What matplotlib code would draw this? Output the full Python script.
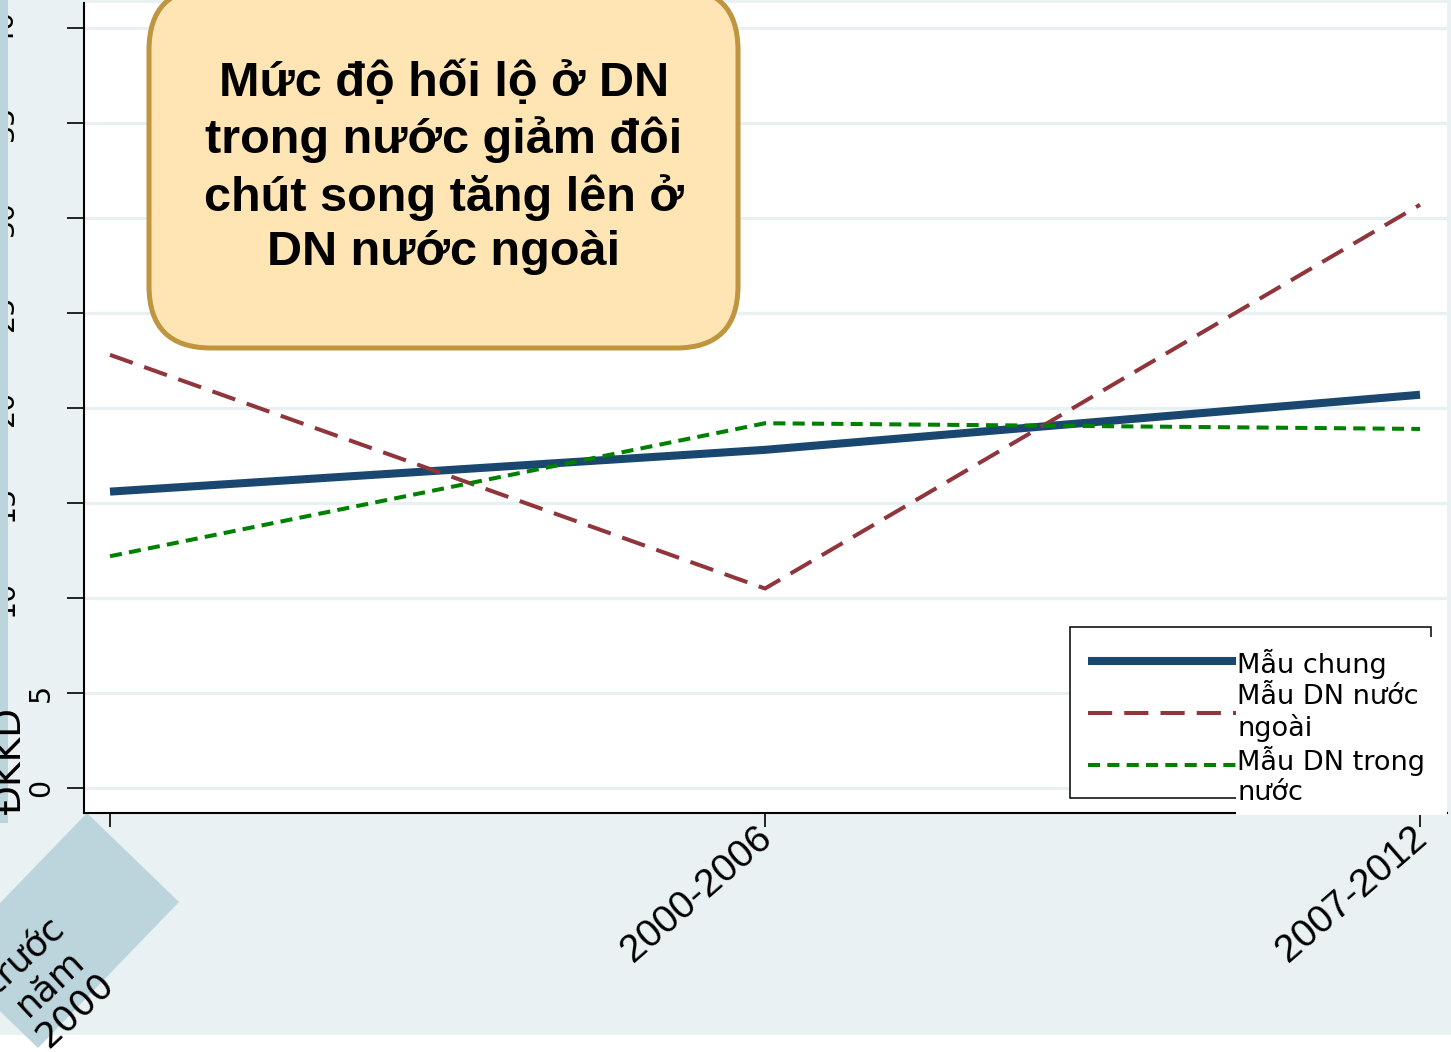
import matplotlib
matplotlib.use("Agg")
import matplotlib.pyplot as plt
import matplotlib.transforms as mtransforms
from matplotlib.patches import Polygon, Rectangle, FancyBboxPatch
from matplotlib.lines import Line2D

# ---------------- data ----------------
categories = ["trước\nnăm\n2000", "2000-2006", "2007-2012"]
series_names = ["Mẫu chung", "Mẫu DN nước\nngoài", "Mẫu DN trong\nnước"]
mau_chung = [15.6, 17.8, 20.7]
mau_nuoc_ngoai = [22.8, 10.5, 30.7]
mau_trong_nuoc = [12.2, 19.2, 18.9]
y_ticks = [0, 5, 10, 15, 20, 25, 30, 35, 40]
y_title = "ĐKKD"
note = "Mức độ hối lộ ở DN\ntrong nước giảm đôi\nchút song tăng lên ở\nDN nước ngoài"

# ---------------- styles ----------------
W, H = 1451, 1052
BG = "#E9F1F3"
STRIP = "#BCD5DD"
colors = ["#1A476F", "#90353B", "#008000"]
widths = [5.8, 2.9, 2.9]
dashes = [None, (6, 3), (3.0, 1.8)]

def fx(px):
    return px / W

def fy(py):
    return 1 - py / H

fig = plt.figure(figsize=(W / 100, H / 100), dpi=100, facecolor="white")

# light background (white band at bottom)
fig.patches.append(Rectangle((0, fy(1035)), 1, 1 - fy(1035), transform=fig.transFigure,
                             facecolor=BG, edgecolor="none", zorder=-2))
# diamond behind first label
fig.patches.append(Polygon([(fx(87), fy(813)), (fx(179), fy(902)), (fx(38), fy(1048)),
                            (fx(-54), fy(959))], closed=True, transform=fig.transFigure,
                           facecolor=STRIP, edgecolor="none", zorder=-1))

ax = fig.add_axes([fx(84), fy(813), fx(1447) - fx(84), fy(3) - fy(813)])
ax.set_facecolor("white")
x = list(range(len(categories)))
ax.set_xlim(-0.0397, 2.0412)
ax.set_ylim(-1.316, 41.32)

for i, (vals, name) in enumerate(zip([mau_chung, mau_nuoc_ngoai, mau_trong_nuoc], series_names)):
    ln, = ax.plot(x, vals, color=colors[i], lw=widths[i], solid_capstyle="butt",
                  dash_capstyle="butt", zorder=3, label=name)
    if dashes[i] is not None:
        ln.set_dashes(dashes[i])

ax.set_yticks(y_ticks)
ax.set_yticklabels([])
ax.set_xticks(x)
ax.set_xticklabels([])
ax.grid(axis="y", color="#E8F0F2", lw=2.3, zorder=0)
ax.grid(axis="x", visible=False)
ax.set_axisbelow(True)
for s in ["top", "right"]:
    ax.spines[s].set_visible(False)
for s in ["left", "bottom"]:
    ax.spines[s].set_linewidth(1.5)
    ax.spines[s].set_color("black")
ax.tick_params(axis="y", length=12.2, width=1.2, direction="out")
ax.tick_params(axis="x", length=10, width=1.2, direction="out")

# y tick labels (rotated)
ytrans = mtransforms.blended_transform_factory(fig.transFigure, ax.transData)
for v in y_ticks:
    xpos = fx(41) if v < 10 else fx(5)
    ax.text(xpos, v, str(v), transform=ytrans, rotation=90, ha="center", va="center",
            fontsize=20.5, family="DejaVu Sans", clip_on=False, zorder=1)

# x tick labels
xtrans = ax.get_xaxis_transform()
for i, lab in enumerate(categories):
    if i == 0:
        t = mtransforms.offset_copy(xtrans, fig=fig, x=-60, y=-170, units="dots")
        ax.text(x[i], 0, lab, transform=t, rotation=43, rotation_mode="anchor",
                ha="center", va="center", multialignment="center", fontsize=26,
                family="DejaVu Sans", clip_on=False, linespacing=1.1)
    else:
        t = mtransforms.offset_copy(xtrans, fig=fig, x=2, y=-20, units="dots")
        ax.text(x[i], 0, lab, transform=t, rotation=41, rotation_mode="anchor",
                ha="right", va="center", fontsize=28, family="Liberation Sans",
                clip_on=False)

# left strip and y title
fig.patches.append(Rectangle((0, fy(823)), fx(8), 1 - fy(823), transform=fig.transFigure,
                             facecolor=STRIP, edgecolor="none", zorder=2))
fig.text(fx(11), fy(760), y_title, rotation=90, ha="center", va="center", fontsize=27,
         family="DejaVu Sans", zorder=3)

# legend (manual)
ident = mtransforms.IdentityTransform()
def P(px, py):
    return (px, H - py)

fig.patches.append(Rectangle(P(1070, 798), 1431 - 1070, 798 - 627, transform=ident,
                             facecolor="white", edgecolor="black", lw=1.1, zorder=5))
handle_y = [661, 713, 765]
for i in range(3):
    l = Line2D([1088, 1236], [H - handle_y[i], H - handle_y[i]], transform=ident,
               color=colors[i], lw=widths[i], solid_capstyle="butt", dash_capstyle="butt",
               zorder=6)
    if dashes[i] is not None:
        l.set_dashes(dashes[i])
    fig.lines.append(l)
fig.patches.append(Rectangle(P(1236, 815), 1447 - 1236, 815 - 637, transform=ident,
                             facecolor="white", edgecolor="none", zorder=7))
text_base = [673, 736, 800]   # baseline of last line of each entry
for i in range(3):
    fig.text(1237 / W, fy(text_base[i]), series_names[i], ha="left", va="baseline",
             fontsize=19.5, family="DejaVu Sans", zorder=8, linespacing=1.2)

# annotation box
fig.patches.append(FancyBboxPatch(P(147 + 2, 348), 740 - 147 - 4, 348 + 12,
                                  boxstyle="round,pad=0,rounding_size=62",
                                  transform=ident, facecolor="#FFE5B4",
                                  edgecolor="#BF953F", lw=3.6, zorder=9))
fig.text(fx(444), fy(168), note, ha="center", va="center", fontsize=35,
         family="Liberation Sans", weight="bold", linespacing=1.28, zorder=10)

fig.savefig("out.png", dpi=100, facecolor=fig.get_facecolor())
